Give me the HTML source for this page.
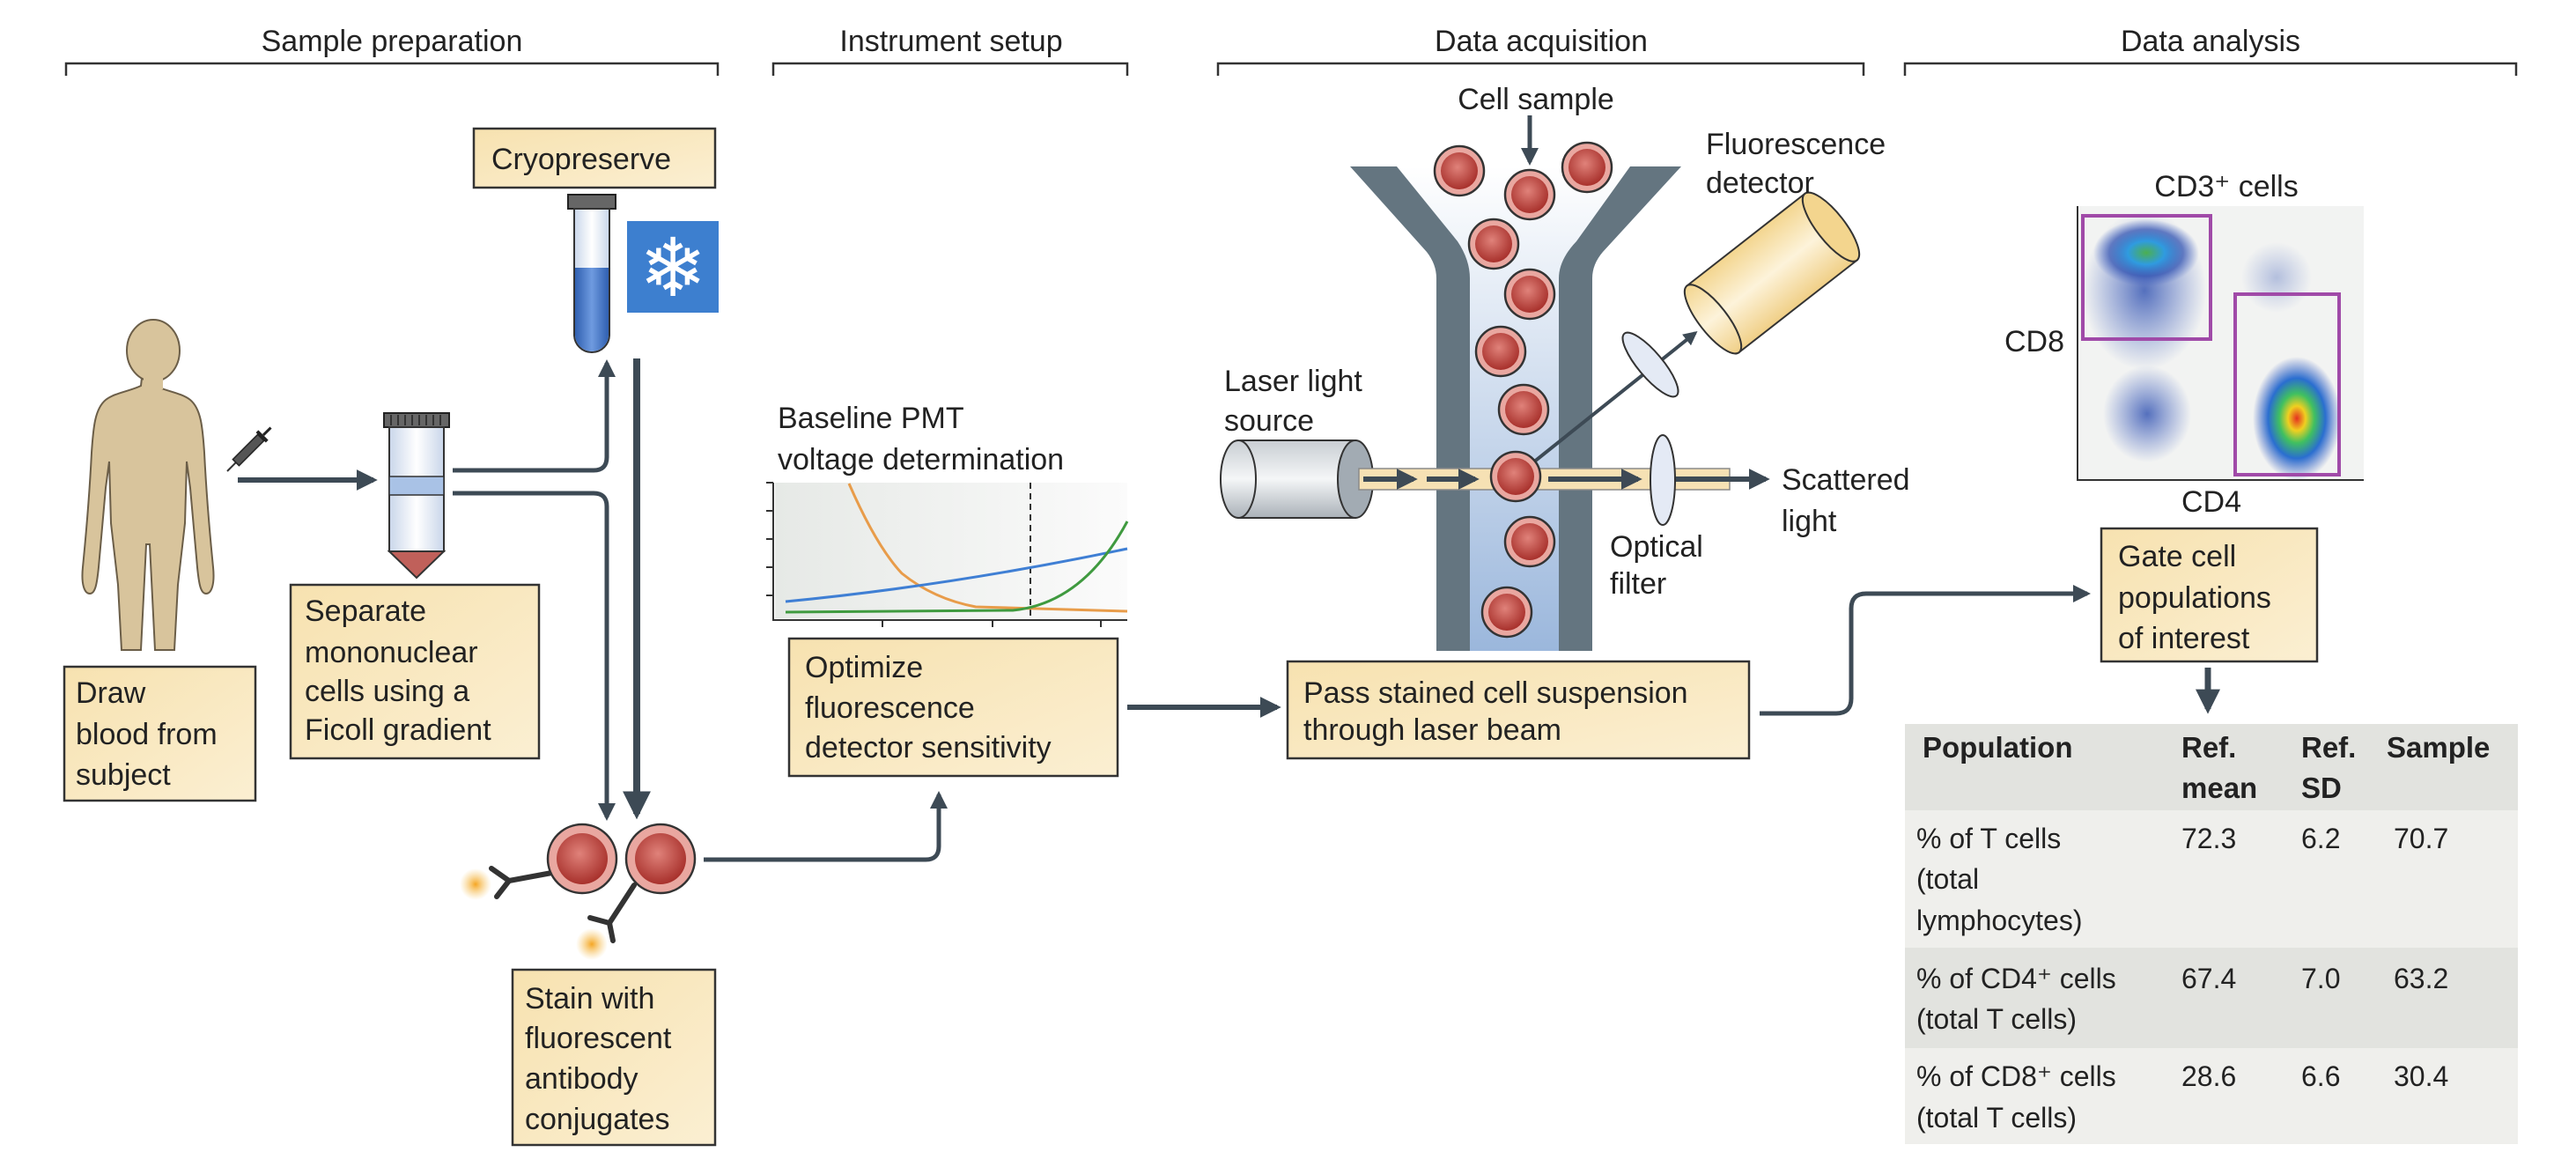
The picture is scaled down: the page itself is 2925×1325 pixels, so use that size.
<!DOCTYPE html>
<html><head><meta charset="utf-8"><style>
html,body{margin:0;padding:0;background:#fff;}
svg{display:block;}
text{font-family:"Liberation Sans",sans-serif;fill:#222;}
</style></head><body>
<svg width="2925" height="1325" viewBox="0 0 2925 1325" xmlns="http://www.w3.org/2000/svg">
<defs>
<linearGradient id="box" x1="0" y1="0" x2="1" y2="1"><stop offset="0" stop-color="#f7e2b0"/><stop offset="1" stop-color="#fbefd2"/></linearGradient>
<linearGradient id="chan" x1="0" y1="0" x2="0" y2="1"><stop offset="0" stop-color="#ffffff"/><stop offset="1" stop-color="#9bb7dc"/></linearGradient>
<linearGradient id="cyl" x1="0" y1="0" x2="0" y2="1"><stop offset="0" stop-color="#c9ced3"/><stop offset="0.5" stop-color="#f4f6f7"/><stop offset="1" stop-color="#aab1b8"/></linearGradient>
<linearGradient id="det" x1="0" y1="0" x2="0" y2="1"><stop offset="0" stop-color="#f3d58e"/><stop offset="0.5" stop-color="#fdf3da"/><stop offset="1" stop-color="#f0cf86"/></linearGradient>
<radialGradient id="cell" cx="0.45" cy="0.4" r="0.6"><stop offset="0" stop-color="#e0827a"/><stop offset="1" stop-color="#a8312c"/></radialGradient>
<radialGradient id="glow"><stop offset="0" stop-color="#f5a623"/><stop offset="1" stop-color="#f5c96a" stop-opacity="0"/></radialGradient>
<radialGradient id="blob1"><stop offset="0" stop-color="#4caf50"/><stop offset="0.35" stop-color="#2f9be0"/><stop offset="0.7" stop-color="#2d4fb0" stop-opacity="0.7"/><stop offset="1" stop-color="#4060c0" stop-opacity="0"/></radialGradient>
<radialGradient id="blob2"><stop offset="0" stop-color="#e53020"/><stop offset="0.2" stop-color="#f0d020"/><stop offset="0.4" stop-color="#40c060"/><stop offset="0.65" stop-color="#2a6ed0"/><stop offset="1" stop-color="#4060c0" stop-opacity="0"/></radialGradient>
<radialGradient id="blob3"><stop offset="0" stop-color="#2d4fb0" stop-opacity="0.8"/><stop offset="1" stop-color="#4060c0" stop-opacity="0"/></radialGradient>
<linearGradient id="tubeb" x1="0" y1="0" x2="1" y2="0"><stop offset="0" stop-color="#2f5fb0"/><stop offset="0.5" stop-color="#6f9be0"/><stop offset="1" stop-color="#2f5fb0"/></linearGradient>
<linearGradient id="tubew" x1="0" y1="0" x2="1" y2="0"><stop offset="0" stop-color="#c9d6ea"/><stop offset="0.5" stop-color="#ffffff"/><stop offset="1" stop-color="#c9d6ea"/></linearGradient>
<linearGradient id="chartbg" x1="0" y1="0" x2="1" y2="0"><stop offset="0" stop-color="#e6e9e6"/><stop offset="1" stop-color="#fbfbfb"/></linearGradient>
<marker id="ah" viewBox="0 0 10 10" refX="8" refY="5" markerWidth="4" markerHeight="4" orient="auto"><path d="M0,0 L10,5 L0,10 z" fill="#3d4a55"/></marker>
</defs>

<g font-size="34" text-anchor="middle">
<text x="445" y="58">Sample preparation</text>
<text x="1080" y="58">Instrument setup</text>
<text x="1750" y="58">Data acquisition</text>
<text x="2510" y="58">Data analysis</text>
</g>
<g stroke="#333" stroke-width="2.5" fill="none">
<path d="M75,86 V72 H815 V86"/>
<path d="M878,86 V72 H1280 V86"/>
<path d="M1383,86 V72 H2116 V86"/>
<path d="M2163,86 V72 H2857 V86"/>
</g>

<g fill="url(#box)" stroke="#333" stroke-width="2.5">
<rect x="538" y="146" width="274" height="67"/>
<rect x="330" y="664" width="282" height="197"/>
<rect x="73" y="757" width="217" height="152"/>
<rect x="582" y="1101" width="230" height="199"/>
<rect x="896" y="725" width="373" height="156"/>
<rect x="1462" y="751" width="524" height="110"/>
<rect x="2386" y="600" width="245" height="151"/>
</g>
<g font-size="34">
<text x="558" y="192">Cryopreserve</text>
<text x="346" y="705">Separate</text><text x="346" y="752">mononuclear</text><text x="346" y="796">cells using a</text><text x="346" y="840">Ficoll gradient</text>
<text x="86" y="798">Draw</text><text x="86" y="845">blood from</text><text x="86" y="891">subject</text>
<text x="596" y="1145">Stain with</text><text x="596" y="1190">fluorescent</text><text x="596" y="1236">antibody</text><text x="596" y="1282">conjugates</text>
<text x="914" y="769">Optimize</text><text x="914" y="815">fluorescence</text><text x="914" y="860">detector sensitivity</text>
<text x="1480" y="798">Pass stained cell suspension</text><text x="1480" y="840">through laser beam</text>
<text x="2405" y="643">Gate cell</text><text x="2405" y="690">populations</text><text x="2405" y="736">of interest</text>
</g>

<!-- person -->
<path fill="#d8c49c" stroke="#6b5e48" stroke-width="2" d="M162,420 l-2,18 c-12,6 -30,8 -40,16 c-12,10 -14,30 -16,60 c-2,40 -6,90 -10,130 c-2,20 2,30 8,30 c6,0 8,-10 10,-30 l8,-90 l4,-30 l2,70 l8,70 l4,74 h22 l6,-120 l4,0 l6,120 h22 l4,-74 l8,-70 l2,-70 l4,30 l8,90 c2,20 4,30 10,30 c6,0 10,-10 8,-30 c-4,-40 -8,-90 -10,-130 c-2,-30 -4,-50 -16,-60 c-10,-8 -28,-10 -40,-16 l-2,-18 z"/>
<ellipse cx="174" cy="398" rx="30" ry="35" fill="#d8c49c" stroke="#6b5e48" stroke-width="2"/>
<rect x="163" y="420" width="22" height="22" fill="#d8c49c"/>
<g transform="translate(258,535) rotate(-45)">
<line x1="0" y1="0" x2="14" y2="0" stroke="#333" stroke-width="2"/>
<rect x="14" y="-5" width="40" height="10" fill="#555" stroke="#222" stroke-width="1.5"/>
<rect x="54" y="-8" width="4" height="16" fill="#222"/>
<line x1="58" y1="0" x2="70" y2="0" stroke="#222" stroke-width="3"/>
</g>
<line x1="270" y1="545" x2="424" y2="545" stroke="#3d4a55" stroke-width="6" marker-end="url(#ah)"/>

<rect x="436" y="469" width="74" height="16" fill="#666" stroke="#222" stroke-width="2"/>
<g stroke="#222" stroke-width="1.5"><line x1="444" y1="471" x2="444" y2="483"/><line x1="452" y1="471" x2="452" y2="483"/><line x1="460" y1="471" x2="460" y2="483"/><line x1="468" y1="471" x2="468" y2="483"/><line x1="476" y1="471" x2="476" y2="483"/><line x1="484" y1="471" x2="484" y2="483"/><line x1="492" y1="471" x2="492" y2="483"/><line x1="500" y1="471" x2="500" y2="483"/></g>
<rect x="442" y="485" width="62" height="141" fill="url(#tubew)" stroke="#333" stroke-width="2"/>
<rect x="442" y="541" width="62" height="21" fill="#a9c2e6" stroke="#333" stroke-width="1.5"/>
<path d="M442,626 L473,656 L504,626 z" fill="#c0605a" stroke="#333" stroke-width="2"/>

<rect x="645" y="221" width="54" height="16" fill="#666" stroke="#222" stroke-width="2"/>
<path d="M652,237 V380 a20,20 0 0 0 40,0 V237 z" fill="url(#tubew)" stroke="#333" stroke-width="2"/>
<path d="M653,304 V380 a19,19 0 0 0 38,0 V304 z" fill="url(#tubeb)"/>
<rect x="712" y="251" width="104" height="104" fill="#3d7fcf"/>
<text x="764" y="336" font-size="92" text-anchor="middle" style="fill:#fff;font-family:'DejaVu Sans',sans-serif">❄</text>

<g stroke="#3d4a55" stroke-width="5" fill="none">
<path d="M514,534 H674 q15,0 15,-15 V412" marker-end="url(#ah)"/>
<path d="M514,560 H674 q15,0 15,15 V928" marker-end="url(#ah)"/>
<path d="M723,407 V924" stroke-width="8" marker-end="url(#ah)"/>
<path d="M799,976 H1051 q15,0 15,-15 V902" marker-end="url(#ah)"/>
<path d="M1280,803 H1450" stroke-width="6" marker-end="url(#ah)"/>
<path d="M1998,810 H2085 q17,0 17,-17 V691 q0,-17 17,-17 H2370" marker-end="url(#ah)"/>
<path d="M2507,758 V805" stroke-width="7" marker-end="url(#ah)"/>
</g>

<circle cx="540" cy="1004" r="18" fill="url(#glow)"/>
<circle cx="672" cy="1072" r="18" fill="url(#glow)"/>
<g stroke="#333" stroke-width="6" fill="none" stroke-linecap="round">
<path d="M632,990 L578,1000"/><path d="M578,1000 l-20,-14 M578,1000 l-14,18"/>
<path d="M720,1005 L692,1048"/><path d="M692,1048 l-22,-6 M692,1048 l4,20"/>
</g>
<circle cx="661" cy="975" r="39" fill="#e9a7a0" stroke="#333" stroke-width="2.5"/>
<circle cx="661" cy="975" r="29" fill="url(#cell)"/>
<circle cx="750" cy="975" r="39" fill="#e9a7a0" stroke="#333" stroke-width="2.5"/>
<circle cx="750" cy="975" r="29" fill="url(#cell)"/>

<text x="883" y="486" font-size="34">Baseline PMT</text>
<text x="883" y="533" font-size="34">voltage determination</text>
<rect x="880" y="548" width="400" height="154" fill="url(#chartbg)"/>
<g stroke="#333" stroke-width="2" fill="none">
<path d="M878,548 V704 H1280"/>
<path d="M870,548 h8 M870,580 h8 M870,612 h8 M870,644 h8 M870,676 h8 M1002,704 v8 M1127,704 v8 M1250,704 v8"/>
</g>
<line x1="1170" y1="548" x2="1170" y2="702" stroke="#333" stroke-width="2" stroke-dasharray="7,5"/>
<path d="M964,549 Q995,620 1024,651 Q1060,680 1108,689 L1280,694" stroke="#e89c4a" stroke-width="3" fill="none"/>
<path d="M892,683 Q1080,665 1280,623" stroke="#3f7fd4" stroke-width="3" fill="none"/>
<path d="M892,695 L1150,693 Q1230,685 1280,592" stroke="#3f9a3f" stroke-width="3" fill="none"/>

<text x="1744" y="124" font-size="34" text-anchor="middle">Cell sample</text>
<line x1="1737" y1="131" x2="1737" y2="184" stroke="#3d4a55" stroke-width="5" marker-end="url(#ah)"/>
<path d="M1586,189 L1655,274 Q1669,295 1669,316 V739 H1770 V316 Q1770,295 1790,274 L1851,189 z" fill="url(#chan)"/>
<path d="M1533,189 H1586 L1655,274 Q1669,295 1669,316 V739 H1631 V316 Q1631,300 1620,286 z" fill="#647580"/>
<path d="M1909,189 H1851 L1790,274 Q1770,295 1770,316 V739 H1808 V316 Q1808,300 1820,286 z" fill="#647580"/>
<rect x="1406" y="500" width="133" height="88" fill="url(#cyl)" stroke="#333" stroke-width="2"/>
<ellipse cx="1406" cy="544" rx="20" ry="44" fill="url(#cyl)" stroke="#333" stroke-width="2"/>
<ellipse cx="1539" cy="544" rx="20" ry="44" fill="#a2abb3" stroke="#333" stroke-width="2"/>
<rect x="1543" y="532" width="421" height="24" fill="#f6e1b4" stroke="#8a8a8a" stroke-width="1.5"/>
<g stroke="#3d4a55" stroke-width="6" marker-end="url(#ah)">
<line x1="1548" y1="544" x2="1605" y2="544"/><line x1="1620" y1="544" x2="1675" y2="544"/><line x1="1758" y1="544" x2="1860" y2="544"/><line x1="1895" y1="544" x2="2005" y2="544"/>
</g>
<ellipse cx="1888" cy="545" rx="14" ry="51" fill="#e4eaf5" stroke="#333" stroke-width="2"/>
<line x1="1721" y1="541" x2="1925" y2="378" stroke="#3d4a55" stroke-width="4" marker-end="url(#ah)"/>
<ellipse cx="1874" cy="414" rx="14" ry="46" transform="rotate(-40 1874 414)" fill="#e4eaf5" stroke="#333" stroke-width="2"/>
<g transform="translate(2012,310) rotate(-38)">
<rect x="-85" y="-48" width="170" height="96" fill="url(#det)" stroke="#333" stroke-width="2"/>
<ellipse cx="-85" cy="0" rx="16" ry="48" fill="url(#det)" stroke="#333" stroke-width="2"/>
<ellipse cx="85" cy="0" rx="16" ry="48" fill="#f3d58e" stroke="#333" stroke-width="2"/>
</g>
<g stroke="#333" stroke-width="2.5" fill="#e9a7a0">
<circle cx="1657" cy="194" r="28"/><circle cx="1737" cy="221" r="28"/><circle cx="1802" cy="190" r="28"/><circle cx="1696" cy="277" r="28"/><circle cx="1737" cy="334" r="28"/><circle cx="1704" cy="399" r="28"/><circle cx="1730" cy="465" r="28"/><circle cx="1721" cy="541" r="28"/><circle cx="1737" cy="615" r="28"/><circle cx="1711" cy="695" r="28"/>
</g>
<g fill="url(#cell)">
<circle cx="1657" cy="194" r="21"/><circle cx="1737" cy="221" r="21"/><circle cx="1802" cy="190" r="21"/><circle cx="1696" cy="277" r="21"/><circle cx="1737" cy="334" r="21"/><circle cx="1704" cy="399" r="21"/><circle cx="1730" cy="465" r="21"/><circle cx="1721" cy="541" r="21"/><circle cx="1737" cy="615" r="21"/><circle cx="1711" cy="695" r="21"/>
</g>
<g font-size="34">
<text x="1390" y="444">Laser light</text><text x="1390" y="489">source</text>
<text x="1937" y="175">Fluorescence</text><text x="1937" y="219">detector</text>
<text x="2023" y="556">Scattered</text><text x="2023" y="603">light</text>
<text x="1828" y="632">Optical</text><text x="1828" y="674">filter</text>
</g>

<rect x="2362" y="234" width="322" height="310" fill="#f2f3f2"/>
<ellipse cx="2435" cy="330" rx="70" ry="90" fill="url(#blob3)"/>
<ellipse cx="2437" cy="287" rx="60" ry="38" fill="url(#blob1)"/>
<ellipse cx="2438" cy="470" rx="50" ry="55" fill="url(#blob3)"/>
<ellipse cx="2585" cy="315" rx="40" ry="40" fill="url(#blob3)" opacity="0.4"/>
<ellipse cx="2608" cy="475" rx="50" ry="70" fill="url(#blob2)"/>
<path d="M2359,234 V545 H2684" stroke="#333" stroke-width="2" fill="none"/>
<rect x="2365" y="245" width="145" height="140" fill="none" stroke="#a04aa8" stroke-width="4"/>
<rect x="2538" y="334" width="118" height="205" fill="none" stroke="#a04aa8" stroke-width="4"/>
<g font-size="34" text-anchor="middle">
<text x="2528" y="223">CD3⁺ cells</text>
<text x="2310" y="399">CD8</text>
<text x="2511" y="581">CD4</text>
</g>

<rect x="2163" y="822" width="696" height="98" fill="#e2e3df"/>
<rect x="2163" y="920" width="696" height="156" fill="#efefec"/>
<rect x="2163" y="1076" width="696" height="114" fill="#e2e3df"/>
<rect x="2163" y="1190" width="696" height="109" fill="#efefec"/>
<g font-size="33" font-weight="bold">
<text x="2183" y="860">Population</text>
<text x="2477" y="860">Ref.</text><text x="2477" y="906">mean</text>
<text x="2613" y="860">Ref.</text><text x="2613" y="906">SD</text>
<text x="2710" y="860">Sample</text>
</g>
<g font-size="32">
<text x="2176" y="963">% of T cells</text><text x="2176" y="1009">(total</text><text x="2176" y="1056">lymphocytes)</text>
<text x="2477" y="963">72.3</text><text x="2613" y="963">6.2</text><text x="2718" y="963">70.7</text>
<text x="2176" y="1122">% of CD4⁺ cells</text><text x="2176" y="1168">(total T cells)</text>
<text x="2477" y="1122">67.4</text><text x="2613" y="1122">7.0</text><text x="2718" y="1122">63.2</text>
<text x="2176" y="1233">% of CD8⁺ cells</text><text x="2176" y="1280">(total T cells)</text>
<text x="2477" y="1233">28.6</text><text x="2613" y="1233">6.6</text><text x="2718" y="1233">30.4</text>
</g>
</svg>
</body></html>
